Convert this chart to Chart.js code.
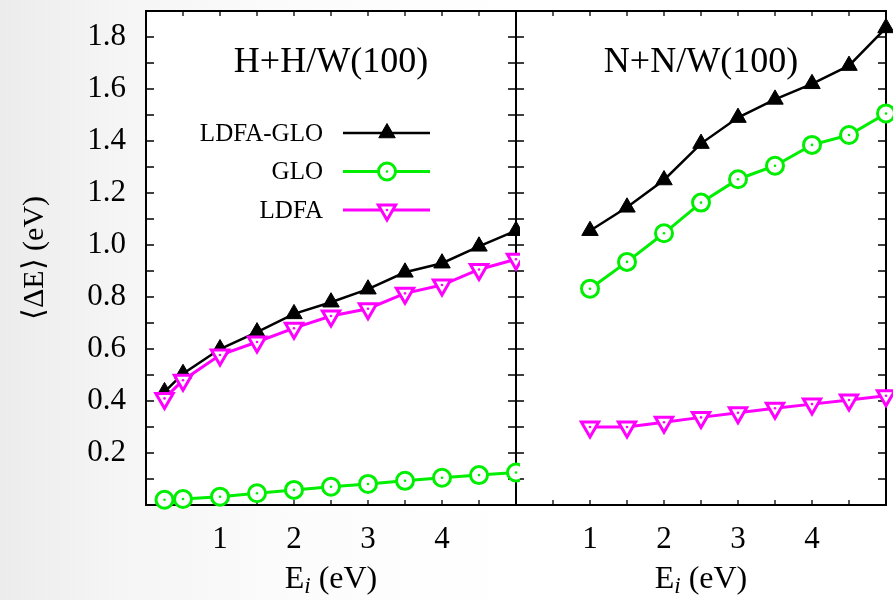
<!DOCTYPE html>
<html>
<head>
<meta charset="utf-8">
<script src="https://cdn.jsdelivr.net/npm/chart.js@4"></script>
<style>
  html, body { margin: 0; padding: 0; }
  body {
    width: 893px; height: 600px; position: relative; overflow: hidden;
    background: linear-gradient(to right, #ececec 0px, #f5f5f5 120px, #fcfcfc 300px, #ffffff 520px);
  }
  .panel { position: absolute; top: 0; height: 600px; }
  #right { left: 512px; width: 381px; z-index: 1; }
  #left { left: 0; width: 520px; z-index: 2; }
</style>
</head>
<body>
<div class="panel" id="right"><canvas id="nn-chart"></canvas></div>
<div class="panel" id="left"><canvas id="hh-chart"></canvas></div>
<script>
// H+H/W(100)
const hhEnergies = [0.25, 0.5, 1, 1.5, 2, 2.5, 3, 3.5, 4, 4.5, 5];
const hhLdfaGlo = [0.435, 0.505, 0.60, 0.665, 0.735, 0.78, 0.83, 0.895, 0.93, 0.995, 1.055];
const hhGlo = [0.02, 0.023, 0.032, 0.045, 0.058, 0.07, 0.081, 0.093, 0.105, 0.115, 0.125];
const hhLdfa = [0.41, 0.48, 0.577, 0.627, 0.68, 0.727, 0.755, 0.814, 0.846, 0.906, 0.945];

// N+N/W(100)
const nnEnergies = [1, 1.5, 2, 2.5, 3, 3.5, 4, 4.5, 5];
const nnLdfaGlo = [1.055, 1.145, 1.25, 1.39, 1.49, 1.56, 1.62, 1.69, 1.835];
const nnGlo = [0.832, 0.935, 1.045, 1.163, 1.253, 1.305, 1.385, 1.423, 1.506];
const nnLdfa = [0.30, 0.30, 0.318, 0.337, 0.355, 0.372, 0.388, 0.404, 0.42];

const seriesNames = ['LDFA-GLO', 'GLO', 'LDFA'];
const xTitle = ['E', 'i', ' (eV)'];
const yTitle = '\u27E8\u0394E\u27E9 (eV)';

const FONT = 'Liberation Serif';
Chart.defaults.font.family = FONT;
Chart.defaults.color = '#000';

function points(xs, ys) {
  return xs.map((x, i) => ({x: x, y: ys[i]}));
}

function makeDatasets(xs, ldfaGlo, glo, ldfa) {
  return [
    {
      label: seriesNames[0], data: points(xs, ldfaGlo), order: 3, clip: false,
      borderColor: '#000000', borderWidth: 2.5,
      pointStyle: 'triangle', pointRadius: 9.5, pointBackgroundColor: '#000000',
      pointBorderColor: '#000000', pointBorderWidth: 1, pointRotation: 0
    },
    {
      label: seriesNames[1], data: points(xs, glo), order: 2, clip: false, centerDot: true,
      borderColor: '#00ee00', borderWidth: 3,
      pointStyle: 'circle', pointRadius: 8.5, pointBackgroundColor: '#ffffff',
      pointBorderColor: '#00ee00', pointBorderWidth: 3, pointRotation: 0
    },
    {
      label: seriesNames[2], data: points(xs, ldfa), order: 1, clip: false, centerDot: true,
      borderColor: '#ff00ff', borderWidth: 3,
      pointStyle: 'triangle', pointRadius: 10, pointBackgroundColor: '#ffffff',
      pointBorderColor: '#ff00ff', pointBorderWidth: 3, pointRotation: 180
    }
  ];
}

// white plot area, inward ticks on all four sides, frame
const frameTicks = {
  id: 'frameTicks',
  beforeDatasetsDraw(chart) {
    const {ctx, chartArea: a, scales: {x, y}} = chart;
    ctx.save();
    ctx.fillStyle = '#ffffff';
    ctx.fillRect(a.left, a.top, a.right - a.left, a.bottom - a.top);
    ctx.strokeStyle = '#000';
    ctx.lineWidth = 1.3;
    ctx.beginPath();
    x.ticks.forEach(t => {
      const px = x.getPixelForValue(t.value);
      ctx.moveTo(px, a.bottom); ctx.lineTo(px, a.bottom - 5);
      ctx.moveTo(px, a.top); ctx.lineTo(px, a.top + 5);
    });
    y.ticks.forEach(t => {
      const py = y.getPixelForValue(t.value);
      ctx.moveTo(a.left, py); ctx.lineTo(a.left + 8, py);
      ctx.moveTo(a.right, py); ctx.lineTo(a.right - 8, py);
    });
    ctx.stroke();
    ctx.lineWidth = 2;
    ctx.strokeRect(a.left, a.top, a.right - a.left, a.bottom - a.top);
    ctx.restore();
  }
};

// small dot in the middle of the open markers
const centerDots = {
  id: 'centerDots',
  afterDatasetDraw(chart, args) {
    const ds = chart.data.datasets[args.index];
    if (!ds.centerDot) return;
    const ctx = chart.ctx;
    ctx.save();
    ctx.fillStyle = ds.borderColor;
    args.meta.data.forEach(pt => {
      ctx.beginPath();
      ctx.arc(pt.x, pt.y, 1.3, 0, Math.PI * 2);
      ctx.fill();
    });
    ctx.restore();
  }
};

function marker(ctx, style, r, rot, x, y) {
  ctx.beginPath();
  if (style === 'circle') {
    ctx.arc(x, y, r, 0, Math.PI * 2);
  } else {
    const a0 = rot * Math.PI / 180;
    for (let k = 0; k < 3; k++) {
      const a = a0 + k * 2 * Math.PI / 3;
      const px = x + Math.sin(a) * r, py = y - Math.cos(a) * r;
      if (k === 0) ctx.moveTo(px, py); else ctx.lineTo(px, py);
    }
    ctx.closePath();
  }
  ctx.fill();
  ctx.stroke();
}

// panel title, x axis title and (left panel only) the legend
const panelText = {
  id: 'panelText',
  afterDatasetsDraw(chart, args, opts) {
    const {ctx, chartArea: a} = chart;
    const cx = (a.left + a.right) / 2;
    ctx.save();
    ctx.fillStyle = '#000';
    ctx.textAlign = 'center';
    ctx.textBaseline = 'alphabetic';
    ctx.font = '36px "' + FONT + '"';
    ctx.fillText(opts.title, cx, a.top + 61);

    // x axis title with italic subscript
    const big = '32px "' + FONT + '"', small = 'italic 23px "' + FONT + '"';
    ctx.textAlign = 'left';
    ctx.font = big;
    const w0 = ctx.measureText(xTitle[0]).width, w2 = ctx.measureText(xTitle[2]).width;
    ctx.font = small;
    const w1 = ctx.measureText(xTitle[1]).width;
    let tx = cx - (w0 + w1 + w2) / 2;
    const by = 588;
    ctx.font = big; ctx.fillText(xTitle[0], tx, by); tx += w0;
    ctx.font = small; ctx.fillText(xTitle[1], tx, by + 5); tx += w1;
    ctx.font = big; ctx.fillText(xTitle[2], tx, by);

    if (opts.legend) {
      ctx.font = '25px "' + FONT + '"';
      ctx.textAlign = 'right';
      ctx.textBaseline = 'middle';
      chart.data.datasets.forEach((ds, i) => {
        const yy = a.top + 122 + i * 38.5;
        ctx.fillStyle = '#000';
        ctx.fillText(ds.label, a.left + 177, yy + 1);
        ctx.strokeStyle = ds.borderColor;
        ctx.lineWidth = ds.borderWidth;
        ctx.beginPath();
        ctx.moveTo(a.left + 197, yy); ctx.lineTo(a.left + 284, yy);
        ctx.stroke();
        ctx.fillStyle = ds.pointBackgroundColor;
        ctx.strokeStyle = ds.pointBorderColor;
        ctx.lineWidth = ds.pointBorderWidth;
        marker(ctx, ds.pointStyle, ds.pointRadius, ds.pointRotation, a.left + 241, yy);
        if (ds.centerDot) {
          ctx.fillStyle = ds.borderColor;
          ctx.beginPath(); ctx.arc(a.left + 241, yy, 1.3, 0, Math.PI * 2); ctx.fill();
        }
      });
    }
    ctx.restore();
  }
};

function noPadding(s) {
  s.paddingLeft = 0; s.paddingRight = 0; s.paddingTop = 0; s.paddingBottom = 0;
}

function xScale() {
  return {
    type: 'linear', min: 0, max: 5,
    ticks: {
      stepSize: 0.5, autoSkip: false, maxRotation: 0, padding: 16,
      font: {size: 31},
      callback: v => (Number.isInteger(v) && v > 0 && v < 5) ? String(v) : ''
    },
    grid: {display: false, drawTicks: false},
    border: {display: false},
    afterFit: s => { s.height = 95; noPadding(s); }
  };
}

function yTicks() {
  return {
    stepSize: 0.1, autoSkip: false, padding: 20,
    font: {size: 31},
    callback: v => (Math.round(v * 10) % 2 === 0 && v > 0.05) ? v.toFixed(1) : ''
  };
}

new Chart(document.getElementById('hh-chart'), {
  type: 'line',
  data: {datasets: makeDatasets(hhEnergies, hhLdfaGlo, hhGlo, hhLdfa)},
  options: {
    responsive: true, maintainAspectRatio: false, animation: false,
    layout: {autoPadding: false, padding: {top: 11, right: 4, left: 0, bottom: 0}},
    scales: {
      x: xScale(),
      y: {
        min: 0, max: 1.9,
        ticks: yTicks(),
        grid: {display: false, drawTicks: false},
        border: {display: false},
        title: {display: true, text: yTitle, font: {size: 30}, padding: {top: 17}},
        afterFit: s => { s.width = 146; noPadding(s); }
      }
    },
    plugins: {
      legend: {display: false}, tooltip: {enabled: false},
      panelText: {title: 'H+H/W(100)', legend: true}
    }
  },
  plugins: [frameTicks, centerDots, panelText]
});

new Chart(document.getElementById('nn-chart'), {
  type: 'line',
  data: {datasets: makeDatasets(nnEnergies, nnLdfaGlo, nnGlo, nnLdfa)},
  options: {
    responsive: true, maintainAspectRatio: false, animation: false,
    layout: {autoPadding: false, padding: {top: 11, right: 7, left: 4, bottom: 0}},
    scales: {
      x: xScale(),
      y: {
        min: 0, max: 1.9,
        ticks: Object.assign(yTicks(), {display: false}),
        grid: {display: false, drawTicks: false},
        border: {display: false},
        afterFit: s => { s.width = 0; noPadding(s); }
      }
    },
    plugins: {
      legend: {display: false}, tooltip: {enabled: false},
      panelText: {title: 'N+N/W(100)', legend: false}
    }
  },
  plugins: [frameTicks, centerDots, panelText]
});
</script>
</body>
</html>
